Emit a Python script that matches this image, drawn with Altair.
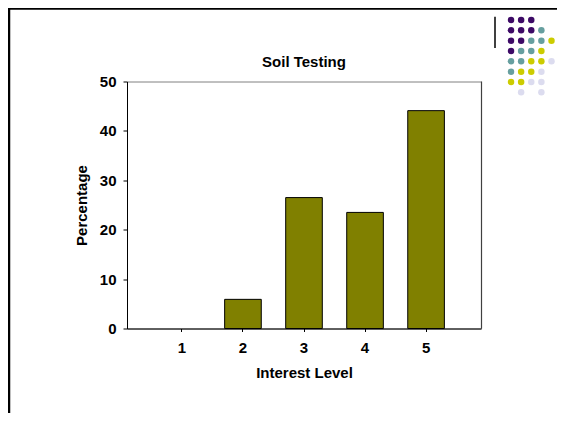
import altair as alt
import pandas as pd

# ---- chart data ----
levels = ["1", "2", "3", "4", "5"]
percentages = [0.0, 5.9, 26.5, 23.5, 44.1]

# ---- decorative dot grid (row, col, colour key) ----
dot_rows = [0, 0, 0,
            1, 1, 1, 1,
            2, 2, 2, 2, 2,
            3, 3, 3, 3,
            4, 4, 4, 4, 4,
            5, 5, 5, 5,
            6, 6, 6, 6,
            7, 7]
dot_cols = [0, 1, 2,
            0, 1, 2, 3,
            0, 1, 2, 3, 4,
            0, 1, 2, 3,
            0, 1, 2, 3, 4,
            0, 1, 2, 3,
            0, 1, 2, 3,
            1, 3]
dot_keys = ["P", "P", "P",
            "P", "P", "P", "T",
            "P", "P", "T", "T", "Y",
            "P", "T", "T", "Y",
            "T", "T", "Y", "Y", "L",
            "T", "Y", "Y", "L",
            "Y", "Y", "L", "L",
            "L", "L"]
dot_domain = ["P", "T", "Y", "L"]
dot_colors = ["#3d0a66", "#669f9f", "#cccc00", "#dcdcef"]

df = pd.DataFrame({"level": levels, "pct": percentages})
dots = pd.DataFrame({"row": dot_rows, "col": dot_cols, "key": dot_keys})

FONT = "Liberation Sans"

bars = alt.Chart(df).mark_bar(
    color="#808000", stroke="#000000", strokeWidth=1
).encode(
    x=alt.X("level:N", sort=levels,
            scale=alt.Scale(paddingInner=0.4, paddingOuter=0.6),
            axis=alt.Axis(title="Interest Level", labelAngle=0,
                          labelFontSize=15, labelFontWeight="bold", labelFont=FONT,
                          labelColor="#000000", titleFontSize=15, titleFontWeight="bold",
                          titleFont=FONT, titleColor="#000000", tickSize=3,
                          tickColor="#000000", domainColor="#000000",
                          labelPadding=9, titlePadding=10)),
    y=alt.Y("pct:Q", scale=alt.Scale(domain=[0, 50]),
            axis=alt.Axis(title="Percentage", values=[0, 10, 20, 30, 40, 50],
                          grid=False, labelFontSize=15, labelFontWeight="bold",
                          labelFont=FONT, labelColor="#000000", titleFontSize=15,
                          titleFontWeight="bold", titleFont=FONT, titleColor="#000000",
                          tickSize=4, tickColor="#000000", domainColor="#000000",
                          labelPadding=7, titlePadding=10)),
    strokeOpacity=alt.condition("datum.pct > 0", alt.value(1), alt.value(0)),
)

title = alt.Chart(pd.DataFrame({"t": ["Soil Testing"]})).mark_text(
    fontSize=15, fontWeight="bold", font=FONT, color="#000000",
    align="center", baseline="alphabetic"
).encode(text="t:N", x=alt.value(177), y=alt.value(-14.5))

dot_layer = alt.Chart(dots).mark_circle(size=42, opacity=1).encode(
    x=alt.X("col:Q", scale=alt.Scale(domain=[0, 4], range=[384, 424.5]), axis=None),
    y=alt.Y("row:Q", scale=alt.Scale(domain=[0, 7], range=[-61.5, 10.8]), axis=None),
    color=alt.Color("key:N", scale=alt.Scale(domain=dot_domain, range=dot_colors),
                    legend=None),
)

vline = alt.Chart(pd.DataFrame({"a": [0]})).mark_rule(
    color="#000000", strokeWidth=1.5
).encode(x=alt.value(368), y=alt.value(-64.8), y2=alt.value(-33.5))

top_border = alt.Chart(pd.DataFrame({"a": [0]})).mark_rule(
    color="#000000", strokeWidth=2.5
).encode(x=alt.value(-121), x2=alt.value(430), y=alt.value(-73))

left_border = alt.Chart(pd.DataFrame({"a": [0]})).mark_rule(
    color="#000000", strokeWidth=2.5
).encode(x=alt.value(-118), y=alt.value(-74), y2=alt.value(340))

right_frame = alt.Chart(pd.DataFrame({"a": [0]})).mark_rule(
    color="#404040", strokeWidth=1.2
).encode(x=alt.value(354.5), y=alt.value(0), y2=alt.value(247))

chart = alt.layer(
    bars, title, dot_layer, vline, top_border, left_border, right_frame
).resolve_scale(
    x="independent", y="independent"
).properties(
    width=354, height=247,
    padding={"left": 119, "top": 73.5, "right": 76, "bottom": 84.5},
    autosize=alt.AutoSizeParams(type="none"),
    background="#ffffff",
).configure_view(
    stroke="#808080", strokeWidth=1
)

chart.save("out.html", embed_options={"renderer": "svg", "actions": False})
